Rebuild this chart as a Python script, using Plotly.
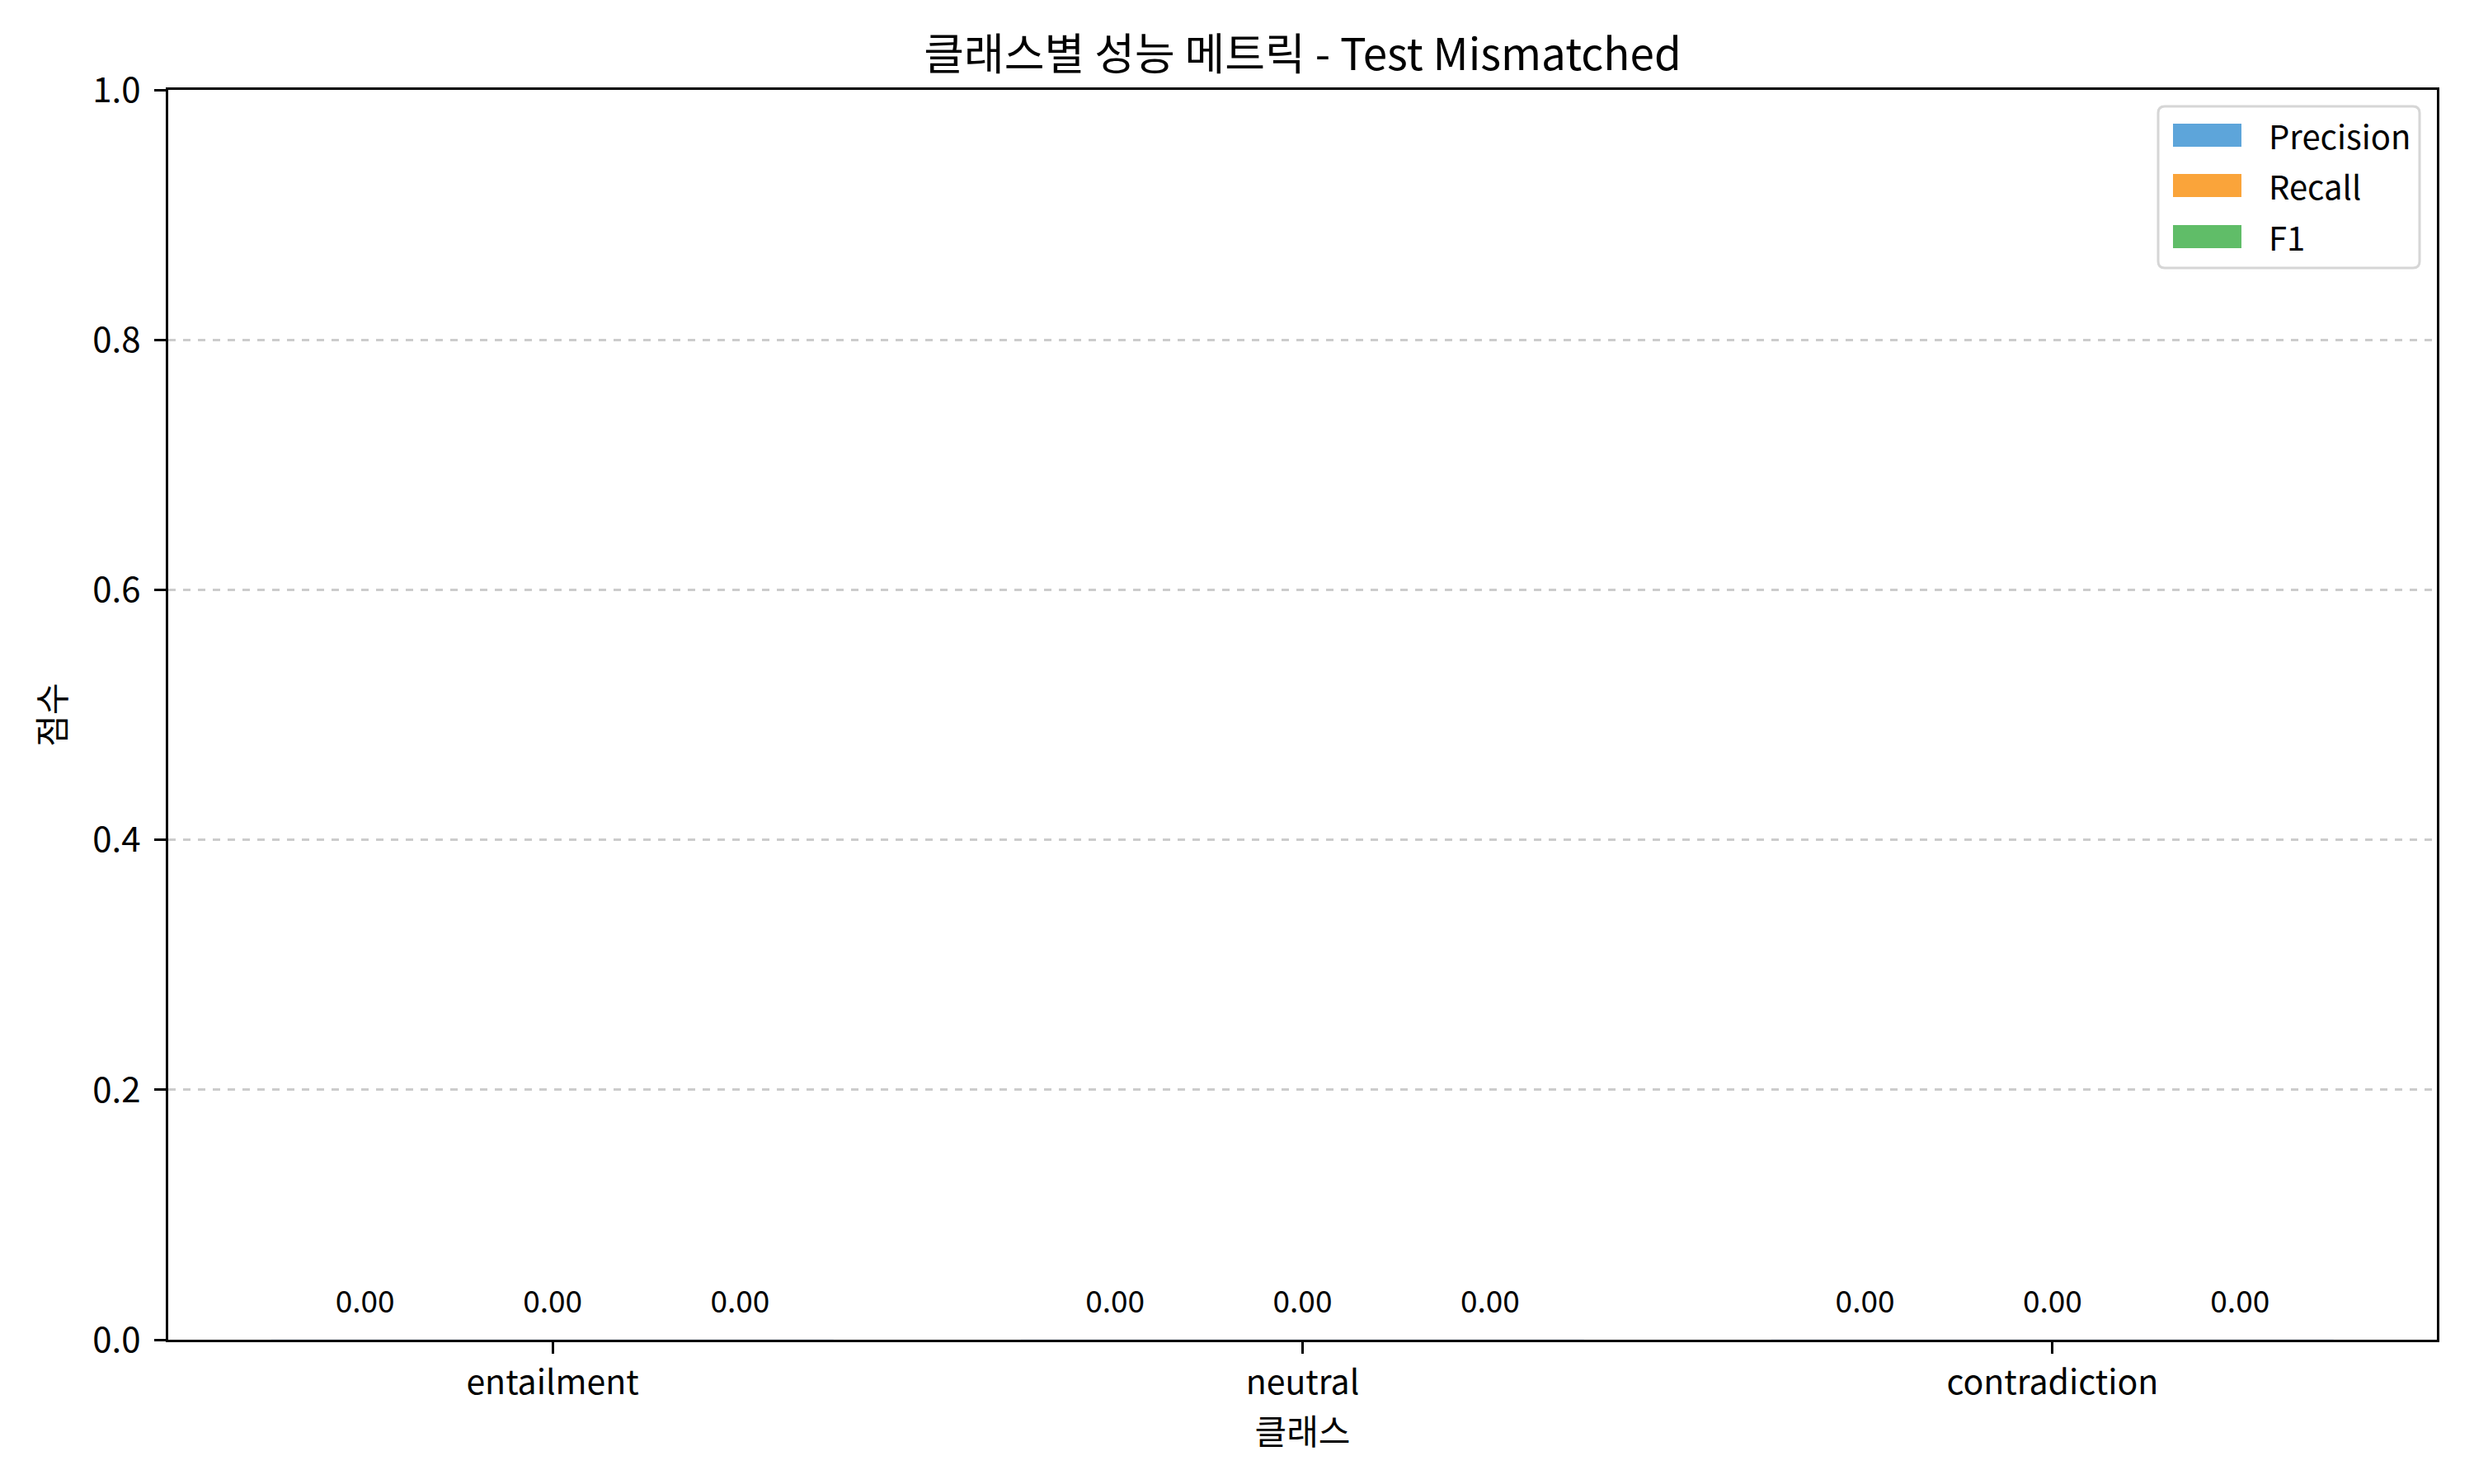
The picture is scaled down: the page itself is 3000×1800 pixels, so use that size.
import plotly.graph_objects as go

# class-wise metrics on test mismatched set (all zero in the run)
classes = ["entailment", "neutral", "contradiction"]
precision = [0.0, 0.0, 0.0]
recall = [0.0, 0.0, 0.0]
f1 = [0.0, 0.0, 0.0]

series_names = ["Precision", "Recall", "F1"]
series_values = [precision, recall, f1]
colors = ["#5DA5DA", "#FAA43A", "#60BD68"]

FONT = "Noto Sans CJK KR"
bar_width = 0.25
label_offset = 0.028

fig = go.Figure()

xs = list(range(len(classes)))
for k, (name, vals, col) in enumerate(zip(series_names, series_values, colors)):
    shift = (k - 1) * bar_width
    xpos = [x + shift for x in xs]
    fig.add_trace(go.Bar(
        x=xpos, y=vals, width=bar_width, name=name,
        marker_color=col, showlegend=False,
    ))
    fig.add_trace(go.Scatter(
        x=xpos, y=[v + label_offset for v in vals],
        mode="text", text=[f"{v:.2f}" for v in vals],
        textposition="middle center",
        textfont=dict(family=FONT, size=37, color="black"),
        showlegend=False, hoverinfo="skip",
    ))

# legend drawn to look like matplotlib's (wide patches, rounded frame)
r = 8
x0, x1, y0, y1 = -338, -21, -216, -20
frame = (f"M{x0+r},{y1} L{x1-r},{y1} Q{x1},{y1} {x1},{y1-r} "
         f"L{x1},{y0+r} Q{x1},{y0} {x1-r},{y0} L{x0+r},{y0} "
         f"Q{x0},{y0} {x0},{y0+r} L{x0},{y1-r} Q{x0},{y1} {x0+r},{y1} Z")
shapes = [dict(type="path", xref="paper", yref="paper", xsizemode="pixel",
               ysizemode="pixel", xanchor=1, yanchor=1, path=frame,
               line=dict(color="#d6d6d6", width=3),
               fillcolor="rgba(255,255,255,0.8)", layer="above")]
annotations = []
row_y = [-55, -116, -178]
for name, col, ry in zip(series_names, colors, row_y):
    shapes.append(dict(type="rect", xref="paper", yref="paper",
                       xsizemode="pixel", ysizemode="pixel", xanchor=1, yanchor=1,
                       x0=-320, x1=-237, y0=ry - 14, y1=ry + 14,
                       line=dict(width=0), fillcolor=col, layer="above"))
    annotations.append(dict(xref="paper", yref="paper", x=1, y=1,
                            xshift=-206, yshift=ry, xanchor="left", yanchor="middle",
                            text=name, showarrow=False,
                            font=dict(family=FONT, size=40, color="black")))

fig.update_layout(
    width=3000, height=1800,
    margin=dict(l=204, r=45, t=109, b=175),
    paper_bgcolor="white", plot_bgcolor="white",
    font=dict(family=FONT, size=42, color="black"),
    title=dict(text="클래스별 성능 메트릭 - Test Mismatched", xref="paper", x=0.5,
               xanchor="center", y=1 - 66 / 1800, yanchor="middle",
               font=dict(size=53)),
    shapes=shapes, annotations=annotations,
    bargap=0, showlegend=False,
)
fig.update_xaxes(
    range=[-0.5125, 2.5125], tickmode="array", tickvals=xs, ticktext=classes,
    showline=True, linecolor="black", linewidth=3, mirror=True,
    ticks="outside", ticklen=14, tickwidth=3, tickcolor="black",
    showgrid=False, zeroline=False, ticklabelstandoff=0,
    tickfont=dict(size=41),
    title=dict(text="클래스", standoff=18, font=dict(size=42)),
)
fig.update_yaxes(
    range=[0, 1], dtick=0.2, tickformat=".1f",
    showline=True, linecolor="black", linewidth=3, mirror=True,
    ticks="outside", ticklen=14, tickwidth=3, tickcolor="black",
    showgrid=True, gridcolor="#cccccc", gridwidth=2.5, griddash="dash",
    zeroline=False, ticklabelstandoff=8,
    title=dict(text="점수", standoff=20, font=dict(size=42)),
)

# drop the default 8px page margin so the figure sits at the window origin
fig.write_html("out.html", config={"displayModeBar": False},
               post_script="document.body.style.margin='0px';")
